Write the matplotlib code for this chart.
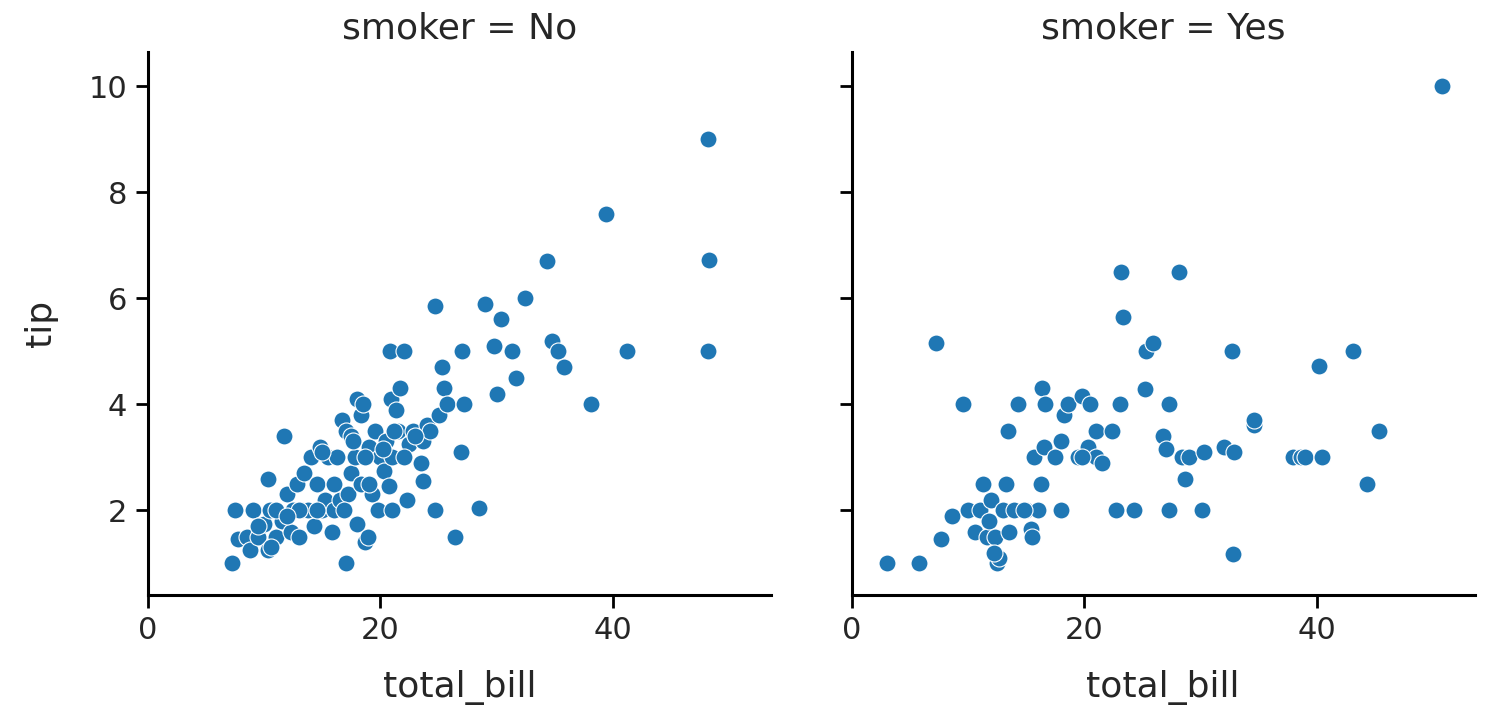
import matplotlib
matplotlib.use("Agg")
import matplotlib.pyplot as plt

# smoker = No
no_bill = [7.25, 7.5, 7.7, 8.5, 8.8, 9.0, 9.5, 10.0, 10.3, 10.3, 10.5, 11.0, 11.5, 11.7, 12.0,
           12.3, 12.5, 12.8, 13.0, 13.2, 13.4, 13.8, 14.0, 14.3, 14.5, 14.8, 15.0, 15.2, 15.5,
           15.8, 16.0, 16.3, 16.5, 16.7, 17.0, 17.0, 17.2, 17.5, 17.5, 17.8, 18.0, 18.0, 18.3,
           18.3, 18.5, 18.7, 18.9, 19.0, 19.3, 19.5, 19.8, 20.0, 20.3, 20.5, 20.7, 20.8, 20.9,
           21.0, 21.0, 21.3, 21.5, 21.7, 22.0, 22.3, 22.5, 22.8, 23.5, 23.7, 23.7, 24.0, 24.3,
           24.7, 24.7, 25.0, 25.3, 25.5, 25.7, 26.4, 26.9, 27.0, 27.2, 28.5, 29.0, 29.8, 30.0,
           30.4, 31.3, 31.7, 32.4, 34.3, 34.8, 35.3, 35.8, 38.1, 39.4, 41.2, 48.2, 48.3, 48.2,
           13.0, 11.0, 9.5, 15.0, 16.0, 19.0, 17.6, 20.2, 22.0, 18.7, 14.5, 12.0, 10.6, 16.9,
           21.2, 23.0]
no_tip = [1.0, 2.0, 1.45, 1.5, 1.25, 2.0, 1.5, 1.75, 1.25, 2.6, 2.0, 1.5, 1.8, 3.4, 2.3,
          1.6, 2.0, 2.5, 1.5, 2.0, 2.7, 2.0, 3.0, 1.7, 2.5, 3.2, 2.0, 2.2, 3.0,
          1.6, 2.0, 3.0, 2.2, 3.7, 1.0, 3.5, 2.3, 2.7, 3.4, 3.0, 1.75, 4.1, 3.8,
          2.5, 4.0, 1.4, 1.5, 3.2, 2.3, 3.5, 2.0, 3.0, 2.75, 3.3, 2.45, 5.0, 4.1,
          2.0, 3.0, 3.9, 3.5, 4.3, 5.0, 2.2, 3.25, 3.5, 2.9, 3.3, 2.55, 3.6, 3.5,
          5.85, 2.0, 3.8, 4.7, 4.3, 4.0, 1.5, 3.1, 5.0, 4.0, 2.05, 5.9, 5.1, 4.2,
          5.6, 5.0, 4.5, 6.0, 6.7, 5.2, 5.0, 4.7, 4.0, 7.58, 5.0, 9.0, 6.73, 5.0,
          2.0, 2.0, 1.7, 3.1, 2.5, 2.5, 3.3, 3.15, 3.0, 3.0, 2.0, 1.9, 1.3, 2.0,
          3.5, 3.4]

# smoker = Yes
yes_bill = [3.07, 5.75, 7.25, 7.7, 8.6, 9.6, 10.0, 10.6, 11.0, 11.3, 11.6, 11.8, 12.0, 12.3,
            12.5, 12.7, 13.0, 13.3, 13.4, 13.5, 14.0, 14.3, 15.0, 15.4, 15.5, 15.7, 16.0, 16.3,
            16.4, 16.5, 16.6, 17.5, 18.0, 18.0, 18.3, 18.6, 19.5, 19.8, 20.3, 20.5, 21.0, 21.0,
            21.5, 22.4, 22.7, 23.2, 23.1, 23.3, 24.3, 25.2, 25.3, 25.9, 26.8, 27.0, 27.3, 27.3,
            28.2, 28.4, 28.7, 29.0, 30.1, 30.3, 32.0, 32.7, 32.8, 32.9, 34.6, 34.6, 38.0, 38.7,
            39.0, 40.2, 40.5, 43.1, 44.3, 45.4, 50.8, 19.8, 14.8, 12.2]
yes_tip = [1.0, 1.0, 5.15, 1.45, 1.9, 4.0, 2.0, 1.6, 2.0, 2.5, 1.5, 1.8, 2.2, 1.5,
           1.0, 1.1, 2.0, 2.5, 3.5, 1.6, 2.0, 4.0, 2.0, 1.65, 1.5, 3.0, 2.0, 2.5,
           4.3, 3.2, 4.0, 3.0, 2.0, 3.3, 3.8, 4.0, 3.0, 4.15, 3.2, 4.0, 3.5, 3.0,
           2.9, 3.5, 2.0, 6.5, 4.0, 5.65, 2.0, 4.29, 5.0, 5.15, 3.4, 3.15, 2.0, 4.0,
           6.5, 3.0, 2.6, 3.0, 2.0, 3.1, 3.2, 5.0, 1.17, 3.1, 3.6, 3.7, 3.0, 3.0,
           3.0, 4.73, 3.0, 5.0, 2.5, 3.5, 10.0, 3.0, 2.0, 1.2]

panels = [("smoker = No", no_bill, no_tip), ("smoker = Yes", yes_bill, yes_tip)]

plt.rcParams['font.family'] = 'DejaVu Sans'
plt.rcParams['text.color'] = '#262626'
plt.rcParams['axes.labelcolor'] = '#262626'
plt.rcParams['xtick.labelcolor'] = '#262626'
plt.rcParams['ytick.labelcolor'] = '#262626'

fig, axes = plt.subplots(1, 2, figsize=(14.88, 7.06), dpi=100, sharex=True, sharey=True)
fig.subplots_adjust(left=0.0995, right=0.991, bottom=0.157, top=0.926, wspace=0.13)

for ax, (title, x, y) in zip(axes, panels):
    ax.scatter(x, y, s=150, color='#1f77b4', edgecolors='white', linewidths=0.8, zorder=3)
    ax.set_title(title, fontsize=26, pad=10)
    ax.set_xlabel('total_bill', fontsize=26, labelpad=18)
    for side in ['top', 'right']:
        ax.spines[side].set_visible(False)
    for side in ['left', 'bottom']:
        ax.spines[side].set_linewidth(2.2)
    ax.tick_params(labelsize=22, width=2, length=9, pad=6)

axes[0].set_ylabel('tip', fontsize=26, labelpad=22)
axes[0].set_xlim(0, 53.6)
axes[0].set_ylim(0.4, 10.64)
axes[0].set_xticks([0, 20, 40])
axes[0].set_yticks([2, 4, 6, 8, 10])

fig.savefig('out.png', dpi=100)
